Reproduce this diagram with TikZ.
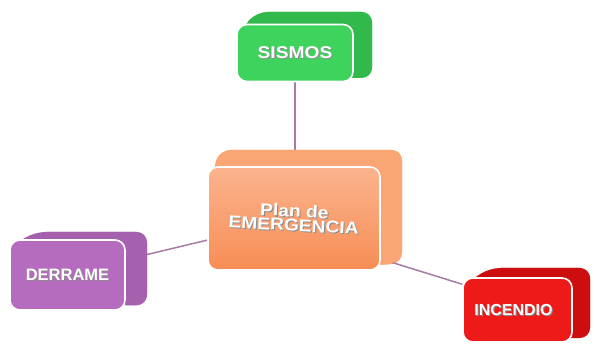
\documentclass[tikz,border=0pt]{standalone}
\usepackage{fontspec}
\setmainfont{Liberation Sans}
\usetikzlibrary{backgrounds,calc}
\definecolor{grnF}{HTML}{3DD35C}
\definecolor{grnB}{HTML}{31B94C}
\definecolor{orgT}{HTML}{FBB48E}
\definecolor{orgF}{HTML}{F78D55}
\definecolor{orgB}{HTML}{F9A574}
\definecolor{purF}{HTML}{B56CBE}
\definecolor{purB}{HTML}{A560AE}
\definecolor{redF}{HTML}{EE1A1A}
\definecolor{redB}{HTML}{CC0E0E}
\definecolor{lnk}{HTML}{A77AA7}
\newcommand\shad[1]{\makebox[0pt][l]{\raisebox{-1pt}{\hspace{1pt}\textcolor{black!45}{#1}}}#1}
\newcommand\wide[1]{\scalebox{1.13}[1]{#1}}
\begin{document}
\begin{tikzpicture}[x=1pt,y=-1pt,
  backbox/.style={rounded corners=11pt, inner sep=0pt, line width=0pt},
  frontbox/.style={rounded corners=10pt, inner sep=0pt, draw=white, line width=1.6pt, text=white, font=\bfseries, align=center},
  hull/.style={rounded corners=10pt},
  link/.style={draw=lnk, line width=1.5pt}]
\useasboundingbox (0,0) rectangle (594,347);
% SISMOS
\node[backbox, fill=grnB, minimum width=115pt, minimum height=66pt] (sismosback) at (314.5,45) {};
\node[frontbox, fill=grnF, minimum width=116pt, minimum height=57pt, font=\bfseries\fontsize{17}{18}\selectfont] (sismos) at (295,53) {\wide{\shad{SISMOS}}};
% PLAN
\node[backbox, fill=orgB, minimum width=182pt, minimum height=113pt] (planback) at (311,206.5) {};
\node[frontbox, top color=orgT, bottom color=orgF, minimum width=172pt, minimum height=103pt, font=\bfseries\fontsize{17}{18}\selectfont] (plan) at (294,218.5) {\rotatebox{-3}{\wide{\shortstack{\shad{Plan de}\\[-2pt]\shad{EMERGENCIA}}}}};
% DERRAME
\node[backbox, fill=purB, minimum width=112pt, minimum height=73pt] (derrameback) at (91,268.5) {};
\node[frontbox, fill=purF, minimum width=115pt, minimum height=70pt, font=\bfseries\fontsize{16.5}{18}\selectfont] (derrame) at (67.5,275) {\shad{DERRAME}};
% INCENDIO
\node[backbox, fill=redB, minimum width=100pt, minimum height=70pt] (incendioback) at (540,303) {};
\node[frontbox, fill=redF, minimum width=109pt, minimum height=64pt, font=\bfseries\fontsize{16}{18}\selectfont] (incendio) at (517.5,310) {\raisebox{-5pt}{\shad{INCENDIO}}\hspace{8pt}};
\begin{pgfonlayer}{background}
\foreach \f/\b/\c in {sismos/sismosback/grnB, plan/planback/orgB, derrame/derrameback/purB, incendio/incendioback/redB}{
  \fill[\c, hull] ($(\f.north west)+(5,5)$) -- (\b.north west) -- (\b.north east) -- (\b.south east) -- ($(\f.south east)+(-5,-5)$) -- cycle;
}
\end{pgfonlayer}
\begin{pgfonlayer}{background}
\draw[link] (sismos.south) -- (sismos.south |- plan.north);
\draw[link] (plan.194) -- (derrameback.14);
\draw[link] (plan.-25) -- (incendio.155);
\end{pgfonlayer}
\end{tikzpicture}
\end{document}
